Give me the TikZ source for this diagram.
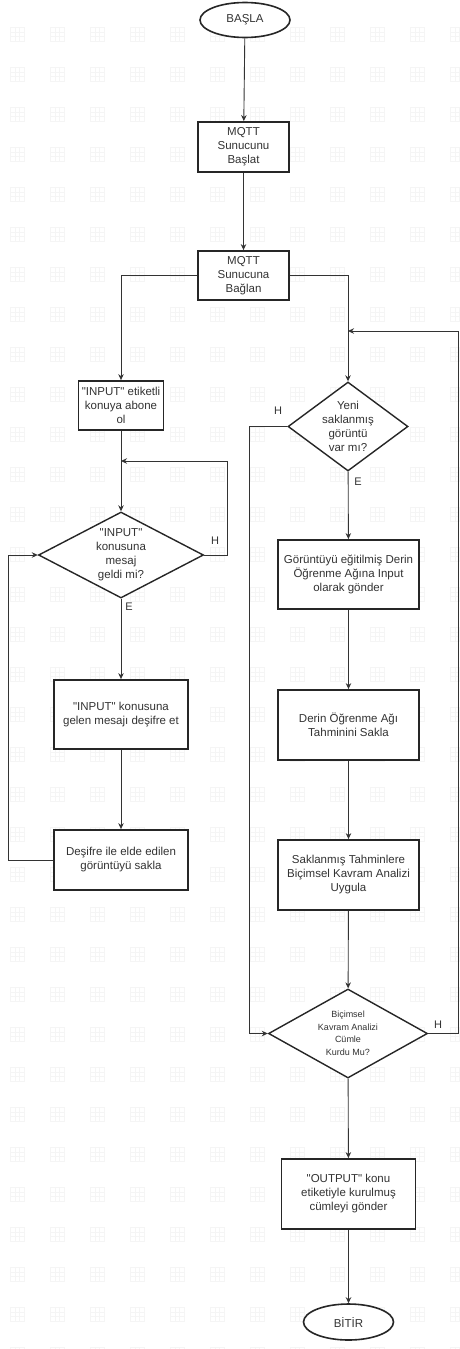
\documentclass[tikz,border=0pt]{standalone}
\usepackage{fontspec}
% a family without TeX ligature mapping keeps straight double quotes
\newfontfamily\flowfont{Liberation Sans}
\usetikzlibrary{shapes.geometric,arrows.meta}
\begin{document}
\begin{tikzpicture}[x=1pt,y=-1pt,
  every node/.style={font=\flowfont\fontsize{11.5}{14}\selectfont, text=black!80},
  box/.style={draw=black!85, line width=1.8pt, fill=white, align=center, inner sep=2pt},
  term/.style={ellipse, draw=black!85, line width=1.6pt, fill=white, inner sep=0pt},
  dec/.style={diamond, draw=black!85, line width=1.4pt, fill=white, inner sep=0pt},
  dectext/.style={align=center},
  link/.style={draw=black!80, line width=0.9pt},
  arr/.style={link, -{Stealth[length=6pt,width=5.5pt]}},
  tag/.style={font=\flowfont\fontsize{11}{13}\selectfont},
  gridmark/.style={draw=black!4, line width=0.4pt}
]
\useasboundingbox (0,0) rectangle (459,1349);
\fill[white] (0,0) rectangle (459,1349);

% faint background grid marks
\foreach \gx in {10,50,...,450}{
  \foreach \gy in {27,67,...,1347}{
    \draw[gridmark] (\gx,\gy) rectangle ++(14,14);
    \draw[gridmark] (\gx+4.7,\gy) -- ++(0,14) (\gx+9.3,\gy) -- ++(0,14)
                    (\gx,\gy+4.7) -- ++(14,0) (\gx,\gy+9.3) -- ++(14,0);
  }
}

% terminals and steps
\node[term, minimum width=90pt, minimum height=35pt] (start) at (245,20) {BAŞLA};
\node[box, minimum width=91pt, minimum height=50pt] (b1) at (243.5,147) {MQTT\\Sunucunu\\Başlat};
\node[box, minimum width=91pt, minimum height=49pt] (b2) at (243.5,275.5) {MQTT\\Sunucuna\\Bağlan};

% left column: receiving images
\node[box, minimum width=85pt, minimum height=49pt] (in1) at (121,405.5) {"INPUT" etiketli\\konuya abone\\ol};
\node[dec, minimum width=165pt, minimum height=86pt] (d1) at (121,555) {};
\node[dectext] at (d1) {"INPUT"\\konusuna\\mesaj\\geldi mi?};
\node[box, minimum width=134pt, minimum height=69pt] (in2) at (121,714.5) {"INPUT" konusuna\\gelen mesajı deşifre et};
\node[box, minimum width=134pt, minimum height=60pt] (in3) at (121,860) {Deşifre ile elde edilen\\görüntüyü sakla};

% right column: processing
\node[dec, minimum width=120pt, minimum height=89pt] (r1) at (348,426.5) {};
\node[dectext] at (r1) {Yeni\\saklanmış\\görüntü\\var mı?};
\node[box, minimum width=141pt, minimum height=69pt] (r2) at (348.5,574.5) {Görüntüyü eğitilmiş Derin\\Öğrenme Ağına Input\\olarak gönder};
\node[box, minimum width=141pt, minimum height=70pt] (r3) at (348.5,725) {Derin Öğrenme Ağı\\Tahminini Sakla};
\node[box, minimum width=141pt, minimum height=70pt] (r4) at (348.5,875) {Saklanmış Tahminlere\\Biçimsel Kavram Analizi\\Uygula};
\node[dec, minimum width=159pt, minimum height=89pt] (r5) at (348,1033.5) {};
\node[dectext, font=\flowfont\fontsize{9}{12.5}\selectfont] at (r5) {Biçimsel\\Kavram Analizi\\Cümle\\Kurdu Mu?};
\node[box, minimum width=134pt, minimum height=70pt] (r6) at (348.5,1194) {"OUTPUT" konu\\etiketiyle kurulmuş\\cümleyi gönder};
\node[term, minimum width=90pt, minimum height=36pt] (end) at (348.5,1322) {BİTİR};

% loop corners
\coordinate (c1) at (227,461);
\coordinate (lb) at (8,555);
\coordinate (ll) at (249,1033.5);
\coordinate (rl) at (458,331);

% connectors
\draw[arr] (start) -- (b1);
\draw[arr] (b1) -- (b2);
\draw[arr] (b2.west) -| (in1.north);
\draw[arr] (b2.east) -| (r1.north);
\draw[arr] (in1) -- (d1);
\draw[arr] (d1.east) -| (c1) -- (in1.south |- c1);
\draw[arr] (d1) -- (in2);
\draw[arr] (in2) -- (in3);
\draw[arr] (in3.west) -| (lb) -- (d1.west);
\draw[arr] (r1) -- (r2);
\draw[arr] (r1.west) -| (ll) -- (r5.west);
\draw[arr] (r2) -- (r3);
\draw[arr] (r3) -- (r4);
\draw[arr] (r4) -- (r5);
\draw[arr] (r5.east) -| (rl) -- (r1.north |- rl);
\draw[arr] (r5) -- (r6);
\draw[arr] (r6) -- (end);

% branch labels
\node[tag] (h1) at (215,541) {H};
\node[tag] (e1) at (129,607) {E};
\node[tag] (h2) at (278,411) {H};
\node[tag] (e2) at (358,482) {E};
\node[tag] (h3) at (438,1025) {H};
\end{tikzpicture}
\end{document}
